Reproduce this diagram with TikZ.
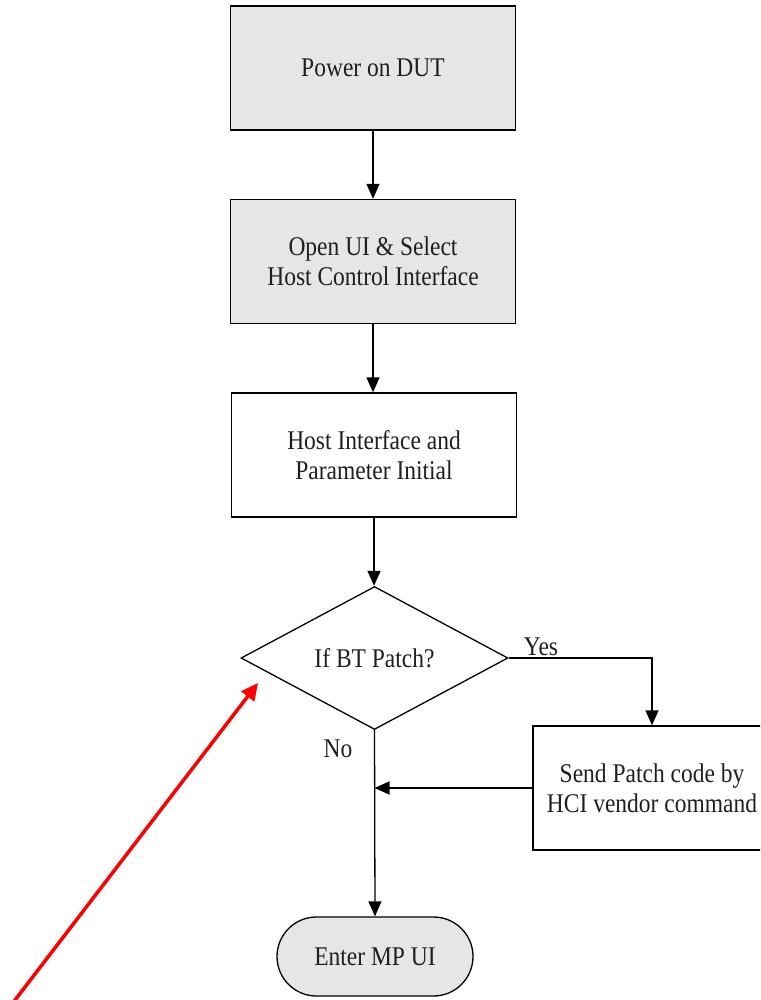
\documentclass[tikz,border=0pt]{standalone}
\usepackage{fontspec}
\setmainfont{Liberation Serif}[FakeStretch=0.87]
\usetikzlibrary{arrows.meta,shapes.geometric}
\definecolor{boxgray}{HTML}{E6E6E6}
\definecolor{inkred}{HTML}{FF0000}
\begin{document}
\begin{tikzpicture}[x=1pt,y=-1pt,
  every node/.style={font=\fontsize{27}{30}\selectfont, text=black!88, align=center},
  procbox/.style={draw, line width=1.3pt, rectangle, minimum width=285pt, minimum height=124pt, inner sep=0pt},
  grayfill/.style={fill=boxgray},
  decision/.style={draw, line width=1.3pt, diamond, aspect=1.87, minimum width=267pt, minimum height=143pt, inner sep=0pt},
  terminal/.style={draw, line width=1.3pt, rectangle, rounded corners=39.5pt, fill=boxgray, minimum width=196pt, minimum height=79pt, inner sep=0pt},
  flow/.style={line width=1.3pt, -{Triangle[length=15pt,width=13pt]}},
  plain/.style={font=\fontsize{27}{30}\selectfont},
  pointer/.style={draw=inkred, line width=3.5pt, -{Triangle[length=17pt,width=16pt]}}
]
\useasboundingbox (0,0) rectangle (760,1000);
\clip (0,0) rectangle (760,1000);

% process steps
\node[procbox, grayfill] (power) at (373,68) {Power on DUT};
\node[procbox, grayfill] (open) at (373,261.5) {Open UI \& Select\\Host Control Interface};
\node[procbox] (init) at (374,455) {Host Interface and\\Parameter Initial};
\node[decision] (patch) at (374.5,658) {If BT Patch?};
\node[procbox, minimum width=238pt] (send) at (652,788) {Send Patch code by\\HCI vendor command};
\node[terminal] (mp) at (375,956.5) {Enter MP UI};

% branch labels
\node[plain] (yes) at (541,647) {Yes};
\node[plain] (no) at (338,749) {No};

% connectors
\draw[flow] (power.south) -- (open.south |- open.north);
\draw[flow] (open.south) -- (open.south |- init.north);
\draw[flow] (init.south) -- (init.south |- patch.north);
\draw[flow] (patch.east) -| (send.north);
\coordinate (join) at (patch.south |- send.west);
\draw[flow] (send.west) -- (join);
\draw[flow] (patch.south) -- (mp.north);

% highlight pointer
\coordinate (ptail) at (12,1004);
\coordinate (phead) at (258,683);
\draw[pointer] (ptail) -- (phead);
\end{tikzpicture}
\end{document}
